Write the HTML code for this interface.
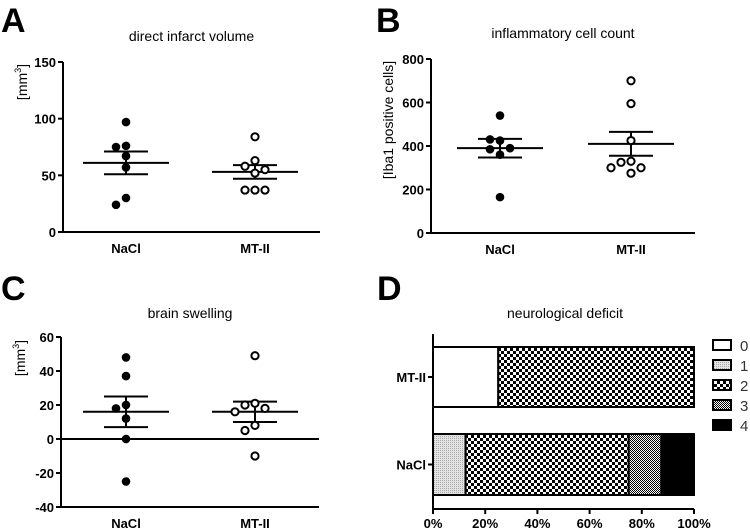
<!DOCTYPE html>
<html><head><meta charset="utf-8"><style>
body{margin:0;background:#fff}
svg{display:block;font-family:"Liberation Sans",sans-serif}
.t{font-size:14px}
.tk{font-size:13px;font-weight:bold}
.L{font-size:34px;font-weight:bold}
</style></head><body>
<svg id="s" width="750" height="532" viewBox="0 0 750 532">
<defs>
<pattern id="p1" width="2" height="2" patternUnits="userSpaceOnUse"><rect width="2" height="2" fill="#e4e4e4"/><rect width="1" height="1" fill="#a8a8a8"/></pattern>
<pattern id="p2" width="6" height="6" patternUnits="userSpaceOnUse"><rect width="6" height="6" fill="#fff"/><rect width="3" height="3" fill="#000"/><rect x="3" y="3" width="3" height="3" fill="#000"/></pattern>
<pattern id="p3" width="2" height="2" patternUnits="userSpaceOnUse"><rect width="2" height="2" fill="#fff"/><rect width="1" height="1" fill="#000"/><rect x="1" y="1" width="1" height="1" fill="#000"/></pattern>
</defs>
<text class="L" x="1" y="32">A</text>
<text class="L" x="376" y="32">B</text>
<text class="L" x="1" y="300">C</text>
<text class="L" x="377" y="300">D</text>
</svg>
<script>
const NS='http://www.w3.org/2000/svg';
const svg=document.getElementById('s');
function mk(t,a,txt){const e=document.createElementNS(NS,t);for(const k in a)e.setAttribute(k,a[k]);if(txt!==undefined)e.textContent=txt;svg.appendChild(e);return e;}

// Data
const groups=['NaCl','MT-II'];
const infarctNaCl=[97,76,75,67,57,30,24];
const infarctMT=[84,63,58,55,52,37,37,37];
const infarctMean=[61,53];
const infarctSEM=[10,6];
const inflNaCl=[540,425,430,385,390,360,165];
const inflMT=[700,595,425,330,325,300,300,275];
const inflMean=[390,410];
const inflSEM=[43,55];
const swellNaCl=[48,37,20,18,12,0,-25];
const swellMT=[49,21,20,18,16,8,5,-10];
const swellMean=[16,16];
const swellSEM=[9,6];
const ticksA=[0,50,100,150];
const ticksB=[0,200,400,600,800];
const ticksC=[-40,-20,0,20,40,60];
const deficitCats=['0','1','2','3','4'];
const deficitNaCl=[0,12.5,62.5,12.5,12.5];
const deficitMT=[25,0,75,0,0];
const ticksD=[0,20,40,60,80,100];

function scatterPanel(o){
  const {x0,x1,yTop,yBot,min,max,ticks,cx,sets,means,sems,title,titleY,ylab,ylabX,zero,name}=o;
  const y=v=>yBot-(v-min)/(max-min)*(yBot-yTop);
  let e=mk('text',{x:(x0+x1)/2,y:titleY,'text-anchor':'middle',class:'t'},title);
  
  e=mk('line',{x1:x0,y1:yTop,x2:x0,y2:yBot,stroke:'#000','stroke-width':2});
  
  e=mk('line',{x1:x0,y1:yBot,x2:x1,y2:yBot,stroke:'#000','stroke-width':2});
  
  if(zero){e=mk('line',{x1:x0,y1:y(0),x2:x1,y2:y(0),stroke:'#000','stroke-width':2});
    }
  ticks.forEach(t=>{
    mk('line',{x1:x0-5,y1:y(t),x2:x0,y2:y(t),stroke:'#000','stroke-width':2});
    e=mk('text',{x:x0-7,y:y(t)+5,'text-anchor':'end',class:'tk'},t);
    
  });
  e=mk('text',{transform:`translate(${ylabX},${ylab.cy}) rotate(-90)`,'text-anchor':'middle','font-size':'14'});
  
  e.innerHTML=ylab.html;
  groups.forEach((g,i)=>{
    e=mk('text',{x:cx[i],y:yBot+21,'text-anchor':'middle',class:'tk'},g);
    
    const m=y(means[i]),hi=y(means[i]+sems[i]),lo=y(means[i]-sems[i]);
    e=mk('line',{x1:cx[i]-43,y1:m,x2:cx[i]+43,y2:m,stroke:'#000','stroke-width':2});
    
    e=mk('path',{d:`M${cx[i]-22},${hi}H${cx[i]+22}M${cx[i]-22},${lo}H${cx[i]+22}M${cx[i]},${hi}V${lo}`,stroke:'#000','stroke-width':2,fill:'none'});
    
    const placed=[];
    sets[i].forEach(v=>{
      const py=y(v);const offs=[0,-10,10,-20,20,-30,30];let px=cx[i];
      for(const d of offs){const tx=cx[i]+d;if(placed.every(p=>Math.hypot(p[0]-tx,p[1]-py)>9.5)){px=tx;break;}}
      placed.push([px,py]);
      const c=mk('circle',{cx:px,cy:py,r:i?3.6:4.3,fill:i?'#fff':'#000',stroke:'#000','stroke-width':i?2:0});
      
      
    });
  });
}
scatterPanel({name:'infarct',x0:63,x1:320,yTop:62,yBot:232,min:0,max:150,ticks:ticksA,cx:[126,255],sets:[infarctNaCl,infarctMT],means:infarctMean,sems:infarctSEM,title:'direct infarct volume',titleY:41,ylab:{cy:82,html:'[mm<tspan dy="-6" font-size="9">3</tspan><tspan dy="6">]</tspan>'},ylabX:27});
scatterPanel({name:'inflammatory',x0:431,x1:695,yTop:59,yBot:233,min:0,max:800,ticks:ticksB,cx:[500,631],sets:[inflNaCl,inflMT],means:inflMean,sems:inflSEM,title:'inflammatory cell count',titleY:38,ylab:{cy:120,html:'[Iba1 positive cells]'},ylabX:393});
scatterPanel({name:'swelling',x0:61,x1:319,yTop:337,yBot:507,min:-40,max:60,ticks:ticksC,cx:[126,255],sets:[swellNaCl,swellMT],means:swellMean,sems:swellSEM,title:'brain swelling',titleY:318,ylab:{cy:358,html:'[mm<tspan dy="-6" font-size="9">3</tspan><tspan dy="6">]</tspan>'},ylabX:25,zero:true});

// Panel D
(function(){
  const x0=433,x1=694,yTop=334,yBot=509;
  const x=v=>x0+v/100*(x1-x0);
  const fills=['#fff','url(#p1)','url(#p2)','url(#p3)','#000'];
  let e=mk('text',{x:565,y:318,'text-anchor':'middle',class:'t'},'neurological deficit');
  
  const rows=[{g:'MT-II',d:deficitMT,y0:347,y1:407},{g:'NaCl',d:deficitNaCl,y0:434,y1:495}];
  rows.forEach(r=>{
    let acc=0;
    r.d.forEach((v,k)=>{
      if(v>0){const rc=mk('rect',{x:x(acc),y:r.y0,width:x(acc+v)-x(acc),height:r.y1-r.y0,fill:fills[k],stroke:'#000','stroke-width':2});
        
        }
      acc+=v;
    });
    const cy=(r.y0+r.y1)/2;
    mk('line',{x1:x0-5,y1:cy,x2:x0,y2:cy,stroke:'#000','stroke-width':2});
    e=mk('text',{x:x0-7,y:cy+5,'text-anchor':'end',class:'tk'},r.g);
    
  });
  e=mk('line',{x1:x0,y1:yTop,x2:x0,y2:yBot,stroke:'#000','stroke-width':2});
  
  e=mk('line',{x1:x0,y1:yBot,x2:x1,y2:yBot,stroke:'#000','stroke-width':2});
  
  ticksD.forEach(t=>{
    mk('line',{x1:x(t),y1:yBot,x2:x(t),y2:yBot+5,stroke:'#000','stroke-width':2});
    e=mk('text',{x:x(t),y:yBot+19,'text-anchor':'middle',class:'tk'},t+'%');
    
  });
  deficitCats.forEach((c,k)=>{
    const ly=345+k*20;
    e=mk('rect',{x:713,y:ly-5,width:18,height:10,fill:fills[k],stroke:'#000','stroke-width':2});
    
    e=mk('text',{x:740,y:ly+6,'font-size':'15',fill:'#333'},c);
    
  });
})();
</script>
</body></html>
